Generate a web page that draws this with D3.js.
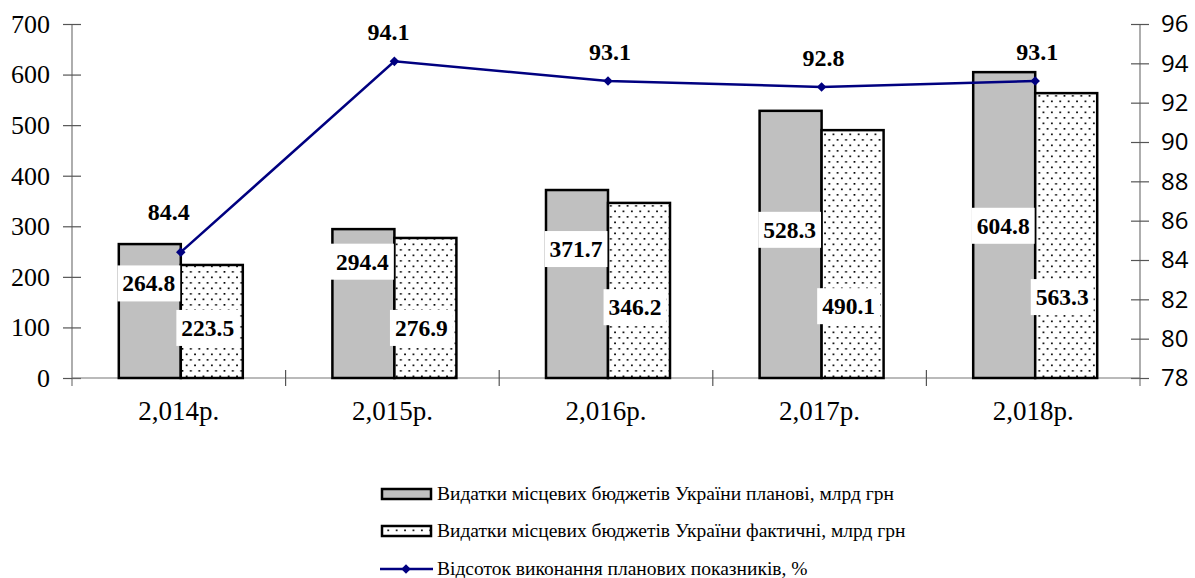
<!DOCTYPE html>
<html><head><meta charset="utf-8">
<script src="https://cdn.jsdelivr.net/npm/d3@7"></script>
<style>body{margin:0;background:#fff}</style>
</head><body>
<svg id="c" width="1195" height="578"></svg>
<script>
const categories = ["2,014р.","2,015р.","2,016р.","2,017р.","2,018р."];
const planned = [264.8, 294.4, 371.7, 528.3, 604.8];
const actual = [223.5, 276.9, 346.2, 490.1, 563.3];
const percent = [84.4, 94.1, 93.1, 92.8, 93.1];
const leftTicks = [0,100,200,300,400,500,600,700];
const rightTicks = [78,80,82,84,86,88,90,92,94,96];
const plannedLabelAt = [187, 230, 255, 293, 301];
const actualLabelAt = [99, 99, 140, 142, 160];
const seriesNames = ["Видатки місцевих бюджетів України планові, млрд грн",
  "Видатки місцевих бюджетів України фактичні, млрд грн",
  "Відсоток виконання планових показників, %"];

const SERIF = "Liberation Serif";
const svg = d3.select("#c");
const L = 72, R = 1140, T = 24, B = 378;
const x = d3.scaleBand().domain(categories).range([L, R]);
const y = d3.scaleLinear().domain([0,700]).range([B, T]);
const y2 = d3.scaleLinear().domain([78,96]).range([B, T]);
const barW = 62;

const defs = svg.append("defs");
const pat = defs.append("pattern").attr("id","dots").attr("patternUnits","userSpaceOnUse")
  .attr("width",8.4).attr("height",11);
pat.append("rect").attr("width",8.4).attr("height",11).attr("fill","#fff");
pat.append("rect").attr("x",1).attr("y",1.5).attr("width",1.7).attr("height",1.7).attr("fill","#000");
pat.append("rect").attr("x",5.2).attr("y",7).attr("width",1.7).attr("height",1.7).attr("fill","#000");

// axes
const axL = d3.axisLeft(y).tickValues(leftTicks).tickSize(9).tickPadding(13);
const gL = svg.append("g").attr("transform",`translate(${L},0)`).call(axL)
  .attr("font-family",SERIF).attr("font-size",26);
gL.selectAll(".tick line").attr("x2",-9).attr("x1",9);
const axR = d3.axisRight(y2).tickValues(rightTicks).tickSize(9).tickPadding(12);
const gR = svg.append("g").attr("transform",`translate(${R},0)`).call(axR)
  .attr("font-family","Open Sans").attr("font-size",24);
gR.selectAll(".tick line").attr("x1",-9).attr("x2",9);
[gL,gR].forEach(g=>{
  g.select(".domain").attr("stroke","#777").attr("stroke-width",1.2).attr("d",`M0,${T}V${B+8}`);
  g.selectAll(".tick line").attr("stroke","#555").attr("stroke-width",1.2);
  g.selectAll("text").attr("fill","#000");
});

// baseline and category ticks
svg.append("line").attr("x1",L).attr("x2",R).attr("y1",B).attr("y2",B).attr("stroke","#777").attr("stroke-width",1.2);
categories.forEach((c,i)=>{
  if(i>0){ const xx = x(c); svg.append("line").attr("x1",xx).attr("x2",xx).attr("y1",B-8).attr("y2",B+8).attr("stroke","#555").attr("stroke-width",1.2);}
});
svg.append("g").attr("font-family",SERIF).attr("font-size",27)
  .selectAll("text").data(categories).join("text")
  .attr("x",d=>x(d)+x.bandwidth()/2).attr("y",B+42).attr("text-anchor","middle").text(d=>d);

// bars
const cx = i => x(categories[i]) + x.bandwidth()/2 + 2;
svg.append("g").selectAll("rect").data(planned).join("rect")
  .attr("x",(d,i)=>cx(i)-barW).attr("y",d=>y(d)).attr("width",barW).attr("height",d=>B-y(d))
  .attr("fill","#c0c0c0").attr("stroke","#000").attr("stroke-width",2.5);
svg.append("g").selectAll("rect").data(actual).join("rect")
  .attr("x",(d,i)=>cx(i)).attr("y",d=>y(d)).attr("width",barW).attr("height",d=>B-y(d))
  .attr("fill","url(#dots)").attr("stroke","#000").attr("stroke-width",2.5);

// value labels
function boxLabel(xc, yc, txt){
  const g = svg.append("g");
  const r = g.append("rect").attr("fill","#fff");
  const t = g.append("text").attr("x",xc).attr("y",yc+8).attr("text-anchor","middle")
    .attr("font-family",SERIF).attr("font-weight","bold").attr("font-size",23.5).text(txt);
  const w = t.node().getComputedTextLength() + 10;
  r.attr("x",xc-w/2).attr("y",yc-18).attr("width",w).attr("height",36);
}
planned.forEach((d,i)=>boxLabel(cx(i)-barW/2-1, y(plannedLabelAt[i]), d.toFixed(1)));
actual.forEach((d,i)=>boxLabel(cx(i)+barW/2-4, y(actualLabelAt[i]), d.toFixed(1)));

// line
const line = d3.line().x((d,i)=>cx(i)).y(d=>y2(d));
svg.append("path").datum(percent).attr("d",line).attr("fill","none").attr("stroke","#000080").attr("stroke-width",2.5);
const diamond = d3.symbol().type(d3.symbolDiamond2).size(58);
svg.append("g").selectAll("path").data(percent).join("path")
  .attr("transform",(d,i)=>`translate(${cx(i)},${y2(d)})`).attr("d",diamond).attr("fill","#000080");
svg.append("g").attr("font-family",SERIF).attr("font-weight","bold").attr("font-size",24)
  .selectAll("text").data(percent).join("text")
  .attr("x",(d,i)=>cx(i)+(i===0?-12:(i===1?-6:2))).attr("y",(d,i)=>y2(d)-(i===0?32:21)).attr("text-anchor","middle")
  .text(d=>d.toFixed(1));

// legend
const lg = svg.append("g");
const ly = [494, 531, 569];
lg.append("rect").attr("x",382).attr("y",ly[0]-5).attr("width",49).attr("height",10).attr("fill","#c0c0c0").attr("stroke","#000").attr("stroke-width",2.5);
lg.append("rect").attr("x",382).attr("y",ly[1]-5).attr("width",49).attr("height",10).attr("fill","url(#dots)").attr("stroke","#000").attr("stroke-width",2.5);
lg.append("line").attr("x1",380).attr("x2",433).attr("y1",ly[2]).attr("y2",ly[2]).attr("stroke","#000080").attr("stroke-width",2.5);
lg.append("path").attr("transform",`translate(406,${ly[2]})`).attr("d",diamond).attr("fill","#000080");
lg.append("g").attr("font-family",SERIF).attr("font-size",19.5)
  .selectAll("text").data(seriesNames).join("text")
  .attr("x",437).attr("y",(d,i)=>ly[i]+6).text(d=>d);
</script>
</body></html>
